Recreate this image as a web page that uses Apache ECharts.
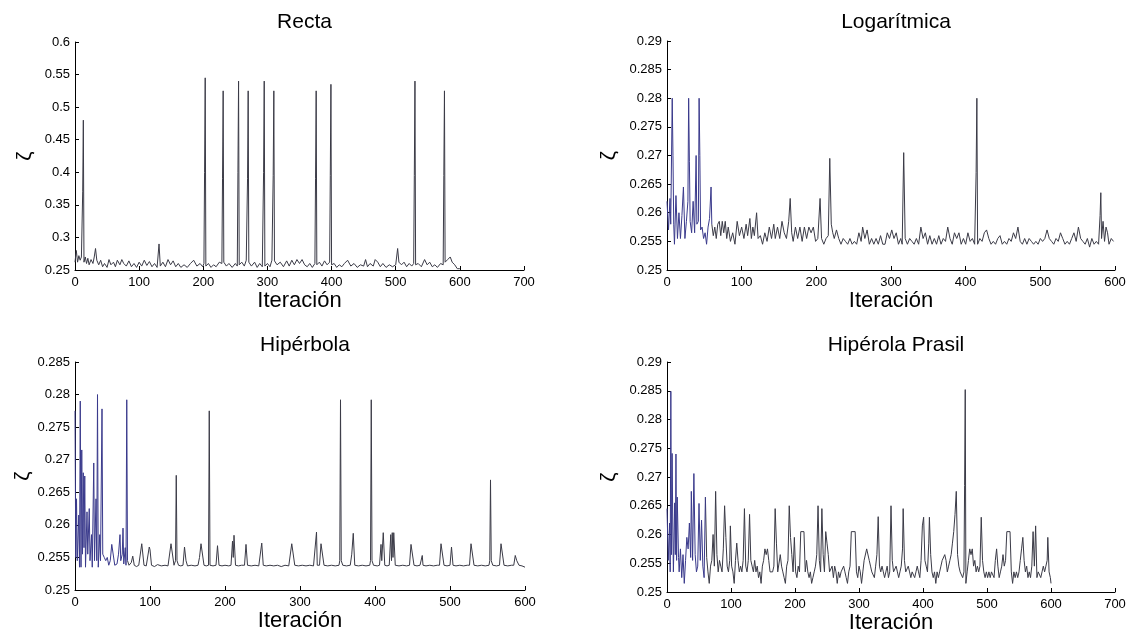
<!DOCTYPE html>
<html>
<head>
<meta charset="utf-8">
<script src="https://cdn.jsdelivr.net/npm/echarts@6/dist/echarts.min.js"></script>
<style>
html,body{margin:0;padding:0;background:#fff;}
#chart{width:1132px;height:637px;}
</style>
</head>
<body>
<div id="chart"></div>
<script>
// ---- data: [iteración, ζ] ----
const titles = ['Recta', 'Logarítmica', 'Hipérbola', 'Hipérola Prasil'];
const xMax = [700, 600, 600, 700];
const yMin = [0.25, 0.25, 0.25, 0.25];
const yMax = [0.6, 0.29, 0.285, 0.29];
const yStep = [0.05, 0.005, 0.005, 0.005];

const recta = [[0,0.262],[2,0.28],[4,0.262],[6,0.272],[8,0.265],[10,0.27],[12,0.37],[13,0.48],[14,0.262],[16,0.27],[18,0.26],[20,0.268],[22,0.258],[25,0.266],[28,0.26],[30,0.27],[32,0.283],[34,0.265],[37,0.258],[40,0.265],[43,0.255],[46,0.26],[50,0.254],[53,0.266],[56,0.258],[60,0.262],[63,0.255],[66,0.265],[70,0.258],[73,0.266],[76,0.26],[80,0.256],[84,0.264],[88,0.255],[92,0.26],[96,0.254],[100,0.262],[104,0.256],[108,0.265],[112,0.257],[116,0.263],[120,0.255],[124,0.26],[128,0.254],[131,0.29],[133,0.256],[137,0.262],[141,0.255],[145,0.266],[149,0.258],[153,0.264],[157,0.255],[161,0.26],[165,0.254],[170,0.258],[175,0.254],[180,0.26],[185,0.265],[190,0.256],[195,0.26],[199,0.255],[201,0.26],[202,0.4],[203,0.545],[204,0.256],[208,0.26],[212,0.254],[216,0.258],[220,0.255],[225,0.262],[229,0.26],[230,0.39],[231,0.525],[232,0.262],[236,0.256],[240,0.26],[245,0.254],[250,0.26],[253,0.256],[254,0.4],[255,0.54],[256,0.258],[260,0.262],[264,0.256],[267,0.265],[269,0.39],[270,0.525],[271,0.262],[275,0.256],[280,0.262],[284,0.254],[288,0.26],[292,0.255],[294,0.4],[295,0.54],[296,0.256],[300,0.26],[304,0.255],[307,0.265],[309,0.395],[310,0.525],[311,0.264],[315,0.258],[320,0.262],[325,0.255],[330,0.264],[334,0.256],[338,0.265],[342,0.258],[346,0.266],[350,0.26],[354,0.266],[358,0.258],[362,0.255],[366,0.26],[370,0.254],[374,0.26],[375,0.39],[376,0.525],[377,0.258],[381,0.262],[385,0.256],[389,0.264],[393,0.258],[397,0.262],[398,0.395],[399,0.535],[400,0.258],[404,0.26],[408,0.254],[412,0.258],[416,0.255],[420,0.26],[425,0.265],[430,0.256],[435,0.26],[440,0.254],[445,0.258],[450,0.256],[453,0.266],[456,0.255],[460,0.26],[465,0.256],[468,0.266],[472,0.262],[476,0.255],[480,0.26],[485,0.254],[490,0.258],[495,0.255],[500,0.258],[503,0.283],[505,0.262],[509,0.258],[513,0.262],[517,0.255],[521,0.26],[525,0.256],[528,0.26],[529,0.395],[530,0.54],[531,0.258],[535,0.26],[540,0.255],[545,0.266],[549,0.258],[553,0.262],[557,0.255],[561,0.258],[565,0.254],[570,0.26],[574,0.258],[575,0.395],[576,0.525],[577,0.262],[581,0.266],[585,0.27],[588,0.262],[592,0.258],[596,0.252],[600,0.252]];

const logaritmica = [[0,0.262],[2,0.257],[4,0.2625],[5,0.258],[7,0.28],[8,0.27],[9,0.258],[10,0.2545],[12,0.263],[14,0.2555],[16,0.26],[18,0.2555],[20,0.2595],[22,0.2645],[24,0.2555],[26,0.2585],[28,0.262],[29,0.28],[30,0.269],[31,0.2585],[33,0.2565],[35,0.262],[37,0.2565],[39,0.27],[40,0.258],[42,0.2585],[43,0.28],[44,0.27],[45,0.257],[47,0.2575],[49,0.2555],[51,0.2565],[53,0.2545],[55,0.2575],[57,0.259],[59,0.2645],[60,0.258],[62,0.256],[64,0.2575],[66,0.2555],[68,0.258],[70,0.2585],[72,0.256],[74,0.2585],[76,0.2565],[78,0.2585],[80,0.2555],[82,0.2575],[85,0.255],[88,0.2565],[91,0.2545],[94,0.2585],[97,0.256],[100,0.2575],[103,0.2555],[106,0.258],[108,0.256],[111,0.259],[113,0.2555],[115,0.2575],[117,0.256],[120,0.26],[122,0.2555],[125,0.256],[128,0.2545],[131,0.2565],[134,0.255],[137,0.2575],[140,0.2555],[143,0.258],[145,0.2555],[148,0.2575],[151,0.2555],[154,0.2585],[157,0.2565],[160,0.2555],[163,0.2585],[165,0.2625],[167,0.2565],[169,0.255],[172,0.2575],[175,0.2555],[178,0.2575],[181,0.255],[184,0.2575],[187,0.2555],[190,0.2575],[193,0.2565],[196,0.2575],[199,0.255],[202,0.2555],[205,0.2625],[207,0.2555],[210,0.2545],[213,0.2555],[216,0.256],[218,0.2695],[220,0.258],[222,0.2565],[224,0.2555],[227,0.257],[230,0.2555],[233,0.2545],[236,0.2555],[239,0.255],[242,0.2545],[245,0.2555],[248,0.2545],[251,0.255],[254,0.2545],[257,0.2565],[260,0.255],[262,0.2575],[265,0.2555],[268,0.257],[271,0.2545],[274,0.2555],[277,0.2545],[280,0.2555],[283,0.2545],[286,0.256],[289,0.2545],[292,0.2545],[295,0.2565],[298,0.2555],[301,0.257],[304,0.2555],[307,0.2565],[310,0.2545],[313,0.2555],[315,0.2545],[317,0.2705],[319,0.2555],[322,0.2545],[325,0.2555],[328,0.255],[331,0.2545],[334,0.2555],[337,0.2545],[340,0.2575],[343,0.2555],[346,0.2565],[349,0.2545],[352,0.256],[355,0.2545],[358,0.2555],[361,0.2545],[364,0.256],[367,0.2545],[370,0.2555],[373,0.255],[376,0.2575],[379,0.2555],[382,0.2545],[385,0.2565],[388,0.2555],[391,0.2565],[394,0.2545],[397,0.2555],[400,0.2545],[403,0.2565],[406,0.255],[409,0.2555],[412,0.2545],[414,0.267],[415,0.28],[416,0.2545],[419,0.2555],[422,0.255],[425,0.2565],[428,0.257],[431,0.2555],[434,0.2545],[437,0.255],[440,0.2545],[443,0.2555],[446,0.256],[449,0.2545],[452,0.255],[455,0.2545],[458,0.2555],[461,0.255],[464,0.2565],[467,0.2555],[470,0.2575],[473,0.255],[476,0.2545],[479,0.2555],[482,0.2545],[485,0.2555],[488,0.255],[491,0.2545],[494,0.255],[497,0.2545],[500,0.2555],[503,0.255],[506,0.2555],[509,0.257],[512,0.2555],[515,0.255],[518,0.2545],[521,0.2555],[524,0.255],[527,0.2565],[530,0.2555],[533,0.2545],[536,0.255],[539,0.2545],[542,0.2555],[545,0.2565],[548,0.255],[551,0.2575],[554,0.2555],[557,0.255],[560,0.2545],[563,0.2555],[566,0.254],[569,0.2555],[572,0.2545],[575,0.255],[578,0.2545],[580,0.2595],[581,0.2635],[582,0.2555],[584,0.2585],[586,0.255],[588,0.2575],[590,0.2565],[592,0.2545],[595,0.2555],[598,0.255]];

const hiperbola = [[0,0.2775],[1,0.255],[2,0.264],[3,0.2545],[5,0.2615],[6,0.2535],[7,0.279],[8,0.2535],[9,0.2715],[10,0.2555],[11,0.268],[12,0.2565],[13,0.2675],[14,0.2535],[16,0.262],[17,0.2555],[19,0.2625],[20,0.2545],[22,0.2585],[23,0.2535],[25,0.2695],[26,0.2545],[28,0.264],[29,0.2545],[30,0.28],[31,0.2535],[33,0.2585],[34,0.2545],[36,0.2778],[37,0.2555],[39,0.255],[41,0.2545],[43,0.255],[45,0.2538],[47,0.2545],[49,0.257],[51,0.2572],[53,0.2538],[56,0.254],[58,0.2555],[60,0.2585],[61,0.2545],[63,0.2555],[64,0.2595],[65,0.254],[67,0.2565],[68,0.2538],[69,0.2792],[70,0.2545],[72,0.2538],[75,0.2542],[77,0.2552],[79,0.2538],[82,0.2536],[85,0.2538],[87,0.2538],[89,0.2571],[90,0.2568],[92,0.2538],[95,0.2537],[97,0.2538],[99,0.2566],[100,0.2562],[102,0.2538],[106,0.2536],[110,0.2539],[115,0.2537],[120,0.2538],[124,0.2537],[126,0.2538],[128,0.2571],[130,0.2571],[132,0.2538],[134,0.2545],[135,0.2676],[136,0.2545],[138,0.2538],[141,0.2537],[144,0.2538],[146,0.2566],[148,0.2545],[150,0.2537],[155,0.2538],[160,0.2537],[164,0.2538],[166,0.255],[168,0.2571],[170,0.2571],[172,0.2538],[175,0.2537],[178,0.2538],[179,0.2775],[180,0.2538],[184,0.2537],[188,0.2538],[190,0.2568],[192,0.2538],[196,0.2537],[200,0.2538],[205,0.2537],[208,0.2538],[210,0.2575],[211,0.255],[212,0.2584],[214,0.2538],[218,0.2537],[222,0.2538],[226,0.2538],[228,0.257],[230,0.2538],[235,0.2537],[240,0.2538],[245,0.2537],[247,0.2538],[249,0.2572],[251,0.2538],[255,0.2537],[260,0.2538],[265,0.2537],[270,0.2538],[275,0.2536],[280,0.2538],[285,0.2537],[287,0.2538],[289,0.2571],[291,0.2571],[293,0.2538],[298,0.2537],[303,0.2538],[308,0.2537],[313,0.2538],[318,0.2537],[320,0.2538],[322,0.2589],[323,0.2538],[326,0.2538],[328,0.2571],[330,0.2568],[332,0.2538],[337,0.2537],[342,0.2538],[347,0.2537],[352,0.2538],[353,0.2545],[354,0.2792],[355,0.2545],[357,0.2538],[362,0.2537],[367,0.2538],[369,0.2555],[371,0.2587],[373,0.2538],[378,0.2537],[383,0.2538],[388,0.2537],[393,0.2538],[394,0.2545],[395,0.2792],[396,0.2545],[398,0.2538],[403,0.2537],[406,0.2538],[408,0.257],[409,0.2545],[411,0.2588],[413,0.2538],[416,0.2537],[419,0.2538],[421,0.2585],[422,0.2545],[423,0.2588],[424,0.255],[425,0.2588],[427,0.2538],[432,0.2537],[437,0.2538],[442,0.2537],[446,0.2538],[448,0.257],[450,0.2568],[452,0.2538],[456,0.2537],[460,0.2538],[463,0.2553],[464,0.2538],[468,0.2537],[473,0.2538],[478,0.2537],[483,0.2538],[486,0.2538],[488,0.2571],[490,0.2571],[492,0.2538],[496,0.2537],[500,0.2538],[502,0.2566],[504,0.2538],[508,0.2537],[513,0.2538],[518,0.2537],[523,0.2538],[526,0.2538],[528,0.2571],[530,0.2571],[532,0.2538],[537,0.2537],[542,0.2538],[547,0.2537],[552,0.2538],[553,0.2545],[554,0.2669],[555,0.2545],[557,0.2538],[562,0.2537],[566,0.2538],[568,0.2571],[570,0.2571],[572,0.2538],[577,0.2537],[582,0.2538],[585,0.2538],[587,0.2553],[589,0.2545],[592,0.2538],[596,0.2537],[600,0.2535]];

const prasil = [[0,0.2645],[2,0.2555],[4,0.262],[5,0.2535],[6,0.2849],[7,0.2565],[8,0.2741],[9,0.262],[10,0.2535],[12,0.2655],[13,0.2565],[14,0.274],[15,0.2555],[16,0.2665],[18,0.256],[19,0.2535],[21,0.2575],[23,0.2525],[25,0.2565],[27,0.2515],[29,0.2555],[31,0.2595],[33,0.2575],[35,0.262],[37,0.256],[38,0.2675],[40,0.2555],[42,0.2706],[44,0.2565],[46,0.2535],[48,0.2545],[50,0.2654],[52,0.2555],[54,0.2625],[56,0.2545],[58,0.2525],[60,0.2665],[62,0.256],[64,0.2535],[66,0.2515],[68,0.2545],[70,0.2555],[72,0.26],[74,0.2545],[76,0.2675],[78,0.2565],[80,0.2535],[82,0.2555],[84,0.2545],[86,0.2535],[88,0.2575],[90,0.265],[92,0.2595],[94,0.2545],[96,0.2535],[98,0.2555],[99,0.2615],[101,0.2545],[103,0.2535],[105,0.2515],[107,0.2555],[109,0.2585],[111,0.2555],[113,0.2535],[115,0.2545],[117,0.2535],[119,0.2555],[121,0.2645],[123,0.2545],[125,0.2535],[127,0.2555],[129,0.2635],[131,0.2555],[133,0.2545],[135,0.2535],[137,0.2555],[139,0.2535],[141,0.2545],[143,0.2525],[145,0.2535],[147,0.2515],[149,0.2545],[151,0.2555],[153,0.2575],[155,0.2565],[157,0.2575],[159,0.2555],[161,0.2535],[163,0.2535],[165,0.2535],[167,0.2545],[169,0.2645],[171,0.2585],[173,0.2535],[175,0.2535],[177,0.2565],[179,0.2545],[181,0.2535],[183,0.2525],[185,0.2515],[187,0.2545],[189,0.2555],[191,0.265],[193,0.2595],[195,0.2565],[197,0.2535],[199,0.2595],[201,0.2535],[203,0.2525],[205,0.2545],[207,0.2535],[209,0.2605],[214,0.2605],[216,0.2535],[218,0.2555],[220,0.2535],[222,0.2525],[224,0.2535],[226,0.2515],[228,0.2525],[230,0.2535],[232,0.2545],[234,0.2565],[236,0.265],[238,0.2555],[240,0.2535],[242,0.2645],[244,0.2565],[246,0.2535],[248,0.2605],[250,0.2585],[252,0.2565],[254,0.2535],[256,0.2535],[258,0.2545],[260,0.2525],[262,0.2545],[264,0.2535],[266,0.2515],[268,0.2535],[270,0.2525],[272,0.2535],[274,0.2535],[276,0.2545],[278,0.2535],[280,0.2525],[282,0.2515],[284,0.2535],[286,0.2545],[288,0.2605],[294,0.2605],[296,0.2535],[298,0.2525],[300,0.2545],[302,0.2535],[304,0.2515],[306,0.2535],[308,0.2555],[310,0.2555],[312,0.2575],[314,0.2575],[316,0.2555],[318,0.2545],[320,0.2535],[322,0.2535],[324,0.2525],[326,0.2545],[328,0.2565],[330,0.2631],[332,0.2545],[334,0.2535],[336,0.2545],[338,0.2535],[340,0.2525],[342,0.2535],[344,0.2545],[346,0.2525],[348,0.2535],[350,0.265],[352,0.2555],[354,0.2535],[356,0.2535],[358,0.2545],[360,0.2535],[362,0.2525],[364,0.2535],[366,0.2545],[368,0.2575],[369,0.2645],[371,0.2555],[373,0.2535],[375,0.2535],[377,0.2545],[379,0.2535],[381,0.2525],[383,0.2535],[385,0.2535],[387,0.2525],[389,0.2535],[391,0.2545],[393,0.2535],[395,0.2525],[397,0.2555],[399,0.2615],[401,0.263],[403,0.2555],[405,0.2545],[407,0.2535],[409,0.2585],[410,0.263],[412,0.2565],[414,0.2535],[416,0.2525],[418,0.2535],[420,0.2515],[422,0.2535],[424,0.2525],[426,0.2535],[428,0.2545],[430,0.2555],[432,0.2555],[434,0.2565],[436,0.2555],[438,0.2535],[440,0.2545],[442,0.2555],[444,0.2565],[446,0.2585],[448,0.2605],[450,0.2635],[452,0.2675],[454,0.2565],[456,0.2545],[458,0.2535],[460,0.2535],[462,0.2525],[464,0.2535],[465,0.2685],[466,0.2852],[467,0.2515],[469,0.2535],[471,0.2555],[473,0.2575],[475,0.2565],[477,0.2575],[479,0.2545],[481,0.2555],[483,0.2535],[485,0.2545],[487,0.2535],[489,0.2545],[491,0.263],[493,0.2555],[495,0.2535],[497,0.2525],[499,0.2535],[501,0.2525],[503,0.2535],[505,0.2525],[507,0.2535],[509,0.2535],[511,0.2525],[513,0.2555],[515,0.2575],[517,0.2545],[519,0.2525],[521,0.2535],[523,0.2545],[525,0.2565],[527,0.2545],[529,0.2555],[531,0.2605],[536,0.2605],[538,0.2535],[540,0.2515],[542,0.2535],[544,0.2525],[546,0.2535],[548,0.2525],[550,0.2535],[552,0.2555],[554,0.2575],[556,0.2595],[558,0.2555],[560,0.2535],[562,0.2545],[564,0.2525],[566,0.2535],[568,0.2525],[570,0.2545],[572,0.2605],[574,0.2545],[576,0.2615],[578,0.2525],[580,0.2535],[582,0.2535],[584,0.2525],[586,0.2535],[588,0.2545],[590,0.2535],[592,0.2545],[594,0.2555],[595,0.2595],[597,0.2535],[599,0.2525],[600,0.2515]];

const seriesData = [recta, logaritmica, hiperbola, prasil];
// iteration up to which the trace looks bluish
const blueUntil = [0, 60, 70, 60];

// ---- layout ----
const FONT = '"Liberation Sans", Arial, sans-serif';
const grids = [
  {left: 75, top: 42, width: 449, height: 228},
  {left: 667, top: 41, width: 448, height: 229},
  {left: 75, top: 362, width: 450, height: 228},
  {left: 667, top: 362, width: 448, height: 230}
];
const titleTops = [7, 7, 330, 330];
const yNameGap = [39, 47, 39, 47];
const GREY = '#3b3b47';
const BLUE = '#3a3a8c';

const axisLine = {show: true, lineStyle: {color: '#000', width: 1}};
const series = [];
seriesData.forEach((d, i) => {
  series.push({
    type: 'line', xAxisIndex: i, yAxisIndex: i,
    data: d.filter(p => p[0] >= blueUntil[i]),
    showSymbol: false, symbol: 'none',
    lineStyle: {width: 1, color: GREY}, itemStyle: {color: GREY}
  });
  if (blueUntil[i] > 0) {
    series.push({
      type: 'line', xAxisIndex: i, yAxisIndex: i,
      data: d.filter(p => p[0] <= blueUntil[i]),
      showSymbol: false, symbol: 'none',
      lineStyle: {width: 1, color: BLUE}, itemStyle: {color: BLUE}
    });
  }
});

const option = {
  backgroundColor: '#fff',
  animation: false,
  title: grids.map((g, i) => ({
    text: titles[i],
    left: g.left + g.width / 2,
    top: titleTops[i],
    textAlign: 'center',
    textStyle: {fontFamily: FONT, fontSize: 21, fontWeight: 'normal', color: '#000'}
  })),
  grid: grids.map(g => Object.assign({containLabel: false}, g)),
  xAxis: grids.map((g, i) => ({
    type: 'value', gridIndex: i, min: 0, max: xMax[i], interval: 100,
    name: 'Iteración', nameLocation: 'middle', nameGap: 19,
    nameTextStyle: {fontFamily: FONT, fontSize: 22, color: '#000'},
    axisLine: axisLine,
    axisTick: {show: true, inside: true, length: 4, lineStyle: {color: '#000'}},
    axisLabel: {fontFamily: FONT, fontSize: 13, color: '#000', margin: 6},
    splitLine: {show: false}
  })),
  yAxis: grids.map((g, i) => ({
    type: 'value', gridIndex: i, min: yMin[i], max: yMax[i], interval: yStep[i],
    name: 'ζ', nameLocation: 'middle', nameGap: yNameGap[i], nameRotate: 90,
    nameTextStyle: {fontFamily: FONT, fontSize: 21, color: '#000'},
    axisLine: axisLine,
    axisTick: {show: true, inside: true, length: 4, lineStyle: {color: '#000'}},
    axisLabel: {fontFamily: FONT, fontSize: 13, color: '#000', margin: 5},
    splitLine: {show: false}
  })),
  series: series
};
const chart = echarts.init(document.getElementById('chart'), null, {renderer: 'canvas'});
chart.setOption(option);
</script>
</body>
</html>
